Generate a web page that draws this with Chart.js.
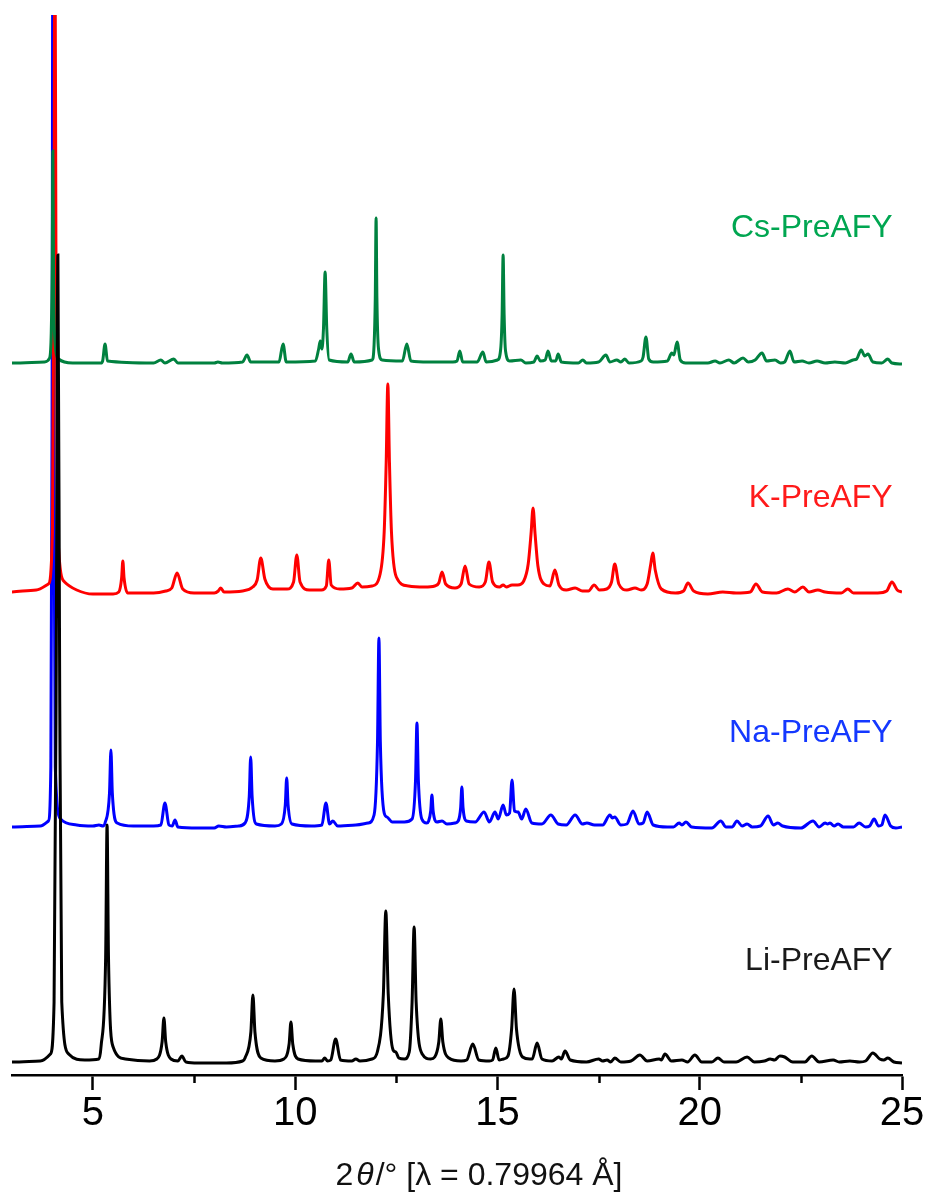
<!DOCTYPE html>
<html>
<head>
<meta charset="utf-8">
<script src="https://cdn.jsdelivr.net/npm/chart.js@4.4.1/dist/chart.umd.min.js"></script>
<style>
  html, body { margin: 0; padding: 0; background: #ffffff; }
  #wrap { width: 930px; height: 1193px; position: relative; }
</style>
</head>
<body>
<div id="wrap"><canvas id="pxrd" width="930" height="1193"></canvas></div>
<script>
// 2θ tick labels and minor tick positions
const twoThetaTicks = [5, 10, 15, 20, 25];
const minorTicks = [7.5, 12.5, 17.5, 22.5];

// Sample names, bottom to top
const seriesNames = ['Li-PreAFY', 'Na-PreAFY', 'K-PreAFY', 'Cs-PreAFY'];

// Vertical stacking offsets (same intensity units as the patterns)
const stackOffsets = [13, 248, 483, 712];

// Diffraction patterns: [2θ (°), intensity above the pattern's own baseline]
const liPattern = [
  [3.0, 0], [3.7, 1], [3.95, 8],
  [4.04, 60], [4.09, 360], [4.135, 807], [4.18, 360], [4.23, 60], [4.4, 8], [4.8, 2],
  [5.15, 3],
  [5.2, 15], [5.315, 105], [5.35, 237], [5.385, 105], [5.5, 15], [5.8, 3],
  [6.4, 1],
  [6.58, 3], [6.71, 20], [6.755, 44], [6.8, 20], [6.93, 3],
  [7.1, 1], [7.2, 6], [7.3, 0],
  [7.6, -1], [8.3, -1], [8.7, 1],
  [8.76, 4], [8.905, 30], [8.955, 67], [9.005, 30], [9.15, 4],
  [9.5, 1],
  [9.72, 3], [9.85, 18], [9.895, 40], [9.94, 18], [10.07, 3],
  [10.5, 1],
  [10.66, 1], [10.73, 4], [10.8, 1],
  [10.88, 2], [11.0, 23], [11.12, 2],
  [11.4, 1], [11.5, 3], [11.6, 1],
  [11.9, 3],
  [12.03, 10], [12.18, 68], [12.24, 151], [12.3, 68], [12.42, 12],
  [12.49, 10], [12.56, 4],
  [12.7, 3],
  [12.82, 10], [12.89, 60], [12.94, 135], [12.99, 60], [13.14, 8],
  [13.35, 3],
  [13.45, 5], [13.55, 20], [13.6, 43], [13.65, 20], [13.8, 4],
  [14.1, 1],
  [14.24, 2], [14.39, 18], [14.54, 2],
  [14.8, 1],
  [14.88, 2], [14.96, 14], [15.04, 2],
  [15.15, 3],
  [15.26, 6], [15.35, 33], [15.41, 73], [15.47, 33], [15.62, 5],
  [15.8, 3],
  [15.86, 3], [15.98, 19], [16.1, 3],
  [16.35, 1],
  [16.52, 5], [16.58, 3], [16.67, 11], [16.8, 2],
  [17.2, 0],
  [17.5, 3], [17.6, 1], [17.71, 2], [17.8, 0], [17.9, 4], [18.05, 0], [18.3, 1],
  [18.52, 7], [18.7, 1],
  [19.0, 3], [19.05, 2], [19.14, 8], [19.3, 1], [19.56, 2], [19.7, 0],
  [19.88, 7], [20.05, 0], [20.3, 0], [20.45, 4], [20.6, 0], [20.9, 0],
  [21.17, 5], [21.35, 0], [21.6, 1], [21.74, 3], [21.85, 2], [21.98, 6], [22.1, 5], [22.3, 0], [22.6, 0],
  [22.77, 6], [22.95, 0], [23.3, 2], [23.45, 0], [23.71, 1], [23.95, 0], [24.1, 1],
  [24.28, 9], [24.45, 3], [24.55, 2], [24.65, 4], [24.8, 0], [25.0, -1]
];

const naPattern = [
  [3.0, 0], [3.7, 1], [3.9, 6],
  [3.96, 60], [3.99, 400], [4.01, 900], [4.03, 400], [4.07, 60], [4.2, 8], [4.6, 2],
  [5.0, 1], [5.15, 2], [5.25, 1],
  [5.3, 4], [5.41, 34], [5.445, 77], [5.48, 34], [5.6, 4],
  [6.0, 1], [6.5, 1],
  [6.68, 2], [6.78, 24], [6.88, 2],
  [6.96, 1], [7.03, 7], [7.1, 0],
  [7.6, -1], [8.0, -1], [8.11, 1], [8.3, 0], [8.6, 1],
  [8.76, 4], [8.865, 31], [8.9, 70], [8.935, 31], [9.04, 3],
  [9.5, 1],
  [9.66, 3], [9.755, 22], [9.79, 49], [9.825, 22], [9.92, 3],
  [10.4, 1],
  [10.66, 2], [10.76, 24], [10.85, 3],
  [10.93, 6], [11.05, 1],
  [11.5, 2], [11.8, 4],
  [11.95, 12], [12.035, 85], [12.07, 189], [12.105, 85], [12.2, 14],
  [12.27, 10], [12.4, 5],
  [12.7, 5],
  [12.89, 8], [12.975, 47], [13.01, 104], [13.045, 47], [13.13, 8],
  [13.25, 4],
  [13.3, 6], [13.35, 16], [13.38, 32], [13.41, 16], [13.5, 5],
  [13.63, 6], [13.75, 3],
  [13.95, 4],
  [14.03, 6], [14.09, 19], [14.12, 40], [14.15, 19], [14.23, 6],
  [14.45, 5],
  [14.67, 15], [14.8, 5],
  [14.94, 15], [15.02, 8],
  [15.14, 22], [15.22, 12],
  [15.3, 14], [15.36, 47], [15.42, 16],
  [15.51, 15], [15.6, 8],
  [15.7, 18], [15.85, 4],
  [16.1, 3],
  [16.32, 12], [16.5, 3],
  [16.7, 2],
  [16.92, 12], [17.1, 3],
  [17.21, 4], [17.4, 2],
  [17.6, 2],
  [17.78, 12], [17.84, 9], [17.9, 10], [18.05, 2],
  [18.2, 3],
  [18.35, 16], [18.5, 3],
  [18.6, 4], [18.7, 15], [18.85, 2],
  [19.2, 0], [19.35, 0],
  [19.49, 4], [19.56, 2], [19.66, 5], [19.8, 0],
  [20.3, -1],
  [20.52, 6], [20.65, 0],
  [20.8, 0], [20.92, 6], [21.05, 1], [21.17, 3], [21.3, 0],
  [21.5, 1],
  [21.69, 11], [21.82, 2], [21.93, 4], [22.05, 1],
  [22.5, -1],
  [22.8, 6], [22.95, 0], [23.1, 4], [23.16, 3], [23.22, 4], [23.32, 1], [23.42, 3], [23.55, 0],
  [23.8, 0], [23.94, 4], [24.1, 0],
  [24.2, 1], [24.31, 8], [24.42, 1],
  [24.5, 2], [24.58, 12], [24.72, 1], [24.85, -1], [25.0, 0]
];

const kPattern = [
  [3.0, 0], [3.6, 2], [3.9, 8],
  [4.0, 60], [4.04, 350], [4.06, 700], [4.085, 350], [4.13, 60], [4.3, 10], [4.6, 2],
  [5.0, -2], [5.5, -2],
  [5.64, 0], [5.71, 14], [5.74, 31], [5.77, 14], [5.86, -1],
  [6.5, -1], [6.8, 1],
  [6.95, 4], [7.08, 19], [7.22, 3], [7.5, -1],
  [8.0, -1],
  [8.1, 1], [8.16, 4], [8.24, 0],
  [8.7, 1], [8.95, 5],
  [9.06, 12], [9.15, 34], [9.25, 13], [9.45, 3],
  [9.8, 3],
  [9.96, 10], [10.04, 37], [10.12, 10], [10.35, 2],
  [10.65, 2],
  [10.77, 6], [10.83, 32], [10.89, 7], [11.1, 3],
  [11.4, 4],
  [11.55, 9], [11.65, 5],
  [11.9, 6], [12.1, 18],
  [12.2, 60], [12.25, 130], [12.29, 208], [12.33, 130], [12.38, 60], [12.5, 15], [12.8, 6], [13.2, 5],
  [13.45, 6],
  [13.55, 9], [13.63, 20], [13.72, 8], [13.95, 4],
  [14.1, 8], [14.2, 26], [14.3, 8], [14.55, 5],
  [14.7, 10], [14.79, 30], [14.88, 10], [15.05, 5],
  [15.14, 7], [15.22, 5], [15.36, 7], [15.5, 7], [15.65, 11],
  [15.76, 28], [15.83, 58], [15.88, 84], [15.93, 58], [16.0, 26], [16.15, 8],
  [16.3, 6],
  [16.42, 22], [16.52, 7], [16.7, 2],
  [16.92, 4], [17.1, 1],
  [17.25, 1], [17.39, 7], [17.52, 2],
  [17.7, 3],
  [17.82, 10], [17.9, 28], [18.0, 8], [18.2, 2],
  [18.4, 4], [18.55, 2],
  [18.7, 8], [18.79, 28], [18.84, 39], [18.9, 22], [19.05, 3],
  [19.4, -1],
  [19.6, 1], [19.71, 9], [19.85, 1],
  [20.2, -2], [20.57, 0], [20.9, -1],
  [21.25, 0], [21.39, 8], [21.55, 0],
  [21.9, -1], [22.18, 3], [22.35, 0], [22.55, 5], [22.7, 0], [22.92, 2], [23.1, 0],
  [23.5, -1], [23.66, 3], [23.8, -1], [24.4, -1],
  [24.62, 1], [24.75, 10], [24.88, 2], [25.0, 0]
];

const csPattern = [
  [3.0, 0], [3.8, 1], [3.93, 5],
  [3.97, 30], [3.995, 100], [4.01, 212], [4.025, 100], [4.05, 30], [4.15, 4], [4.5, 0],
  [5.2, 0],
  [5.24, 2], [5.3, 19], [5.36, 2],
  [6.5, 0], [6.68, 3], [6.78, 0], [7.0, 4], [7.1, 0],
  [8.0, 0], [8.09, 1], [8.2, 0], [8.7, 1],
  [8.81, 8], [8.9, 1],
  [9.6, 1],
  [9.7, 19], [9.78, 1],
  [10.5, 2],
  [10.58, 14], [10.62, 22], [10.66, 14], [10.7, 35], [10.74, 91], [10.78, 35], [10.84, 3],
  [11.3, 1],
  [11.38, 9], [11.46, 1],
  [11.9, 3],
  [11.95, 18], [11.98, 65], [12.0, 145], [12.02, 65], [12.06, 14], [12.15, 3],
  [12.65, 2],
  [12.76, 19], [12.86, 2],
  [13.3, 1], [13.9, 1],
  [14.0, 2], [14.07, 12], [14.14, 1],
  [14.5, 1],
  [14.64, 11], [14.72, 1],
  [15.0, 3],
  [15.08, 14], [15.115, 48], [15.14, 108], [15.165, 48], [15.2, 12], [15.3, 2],
  [15.58, 3], [15.7, 0], [15.9, 1],
  [15.98, 7], [16.06, 2],
  [16.18, 3], [16.25, 12], [16.33, 2],
  [16.44, 2], [16.5, 9], [16.58, 1],
  [17.0, 0], [17.11, 3], [17.2, 0], [17.5, 1],
  [17.68, 8], [17.78, 1], [17.95, 3], [18.05, 1], [18.15, 4], [18.25, 0],
  [18.55, 2],
  [18.6, 6], [18.67, 26], [18.74, 4], [18.85, 1],
  [19.2, 2],
  [19.31, 10], [19.36, 8], [19.44, 21], [19.52, 3], [19.65, 0],
  [20.2, 0], [20.38, 2], [20.5, 0], [20.72, 3], [20.85, 0],
  [21.07, 5], [21.2, 1], [21.37, 3], [21.54, 10], [21.65, 2], [21.86, 3], [22.0, 0], [22.1, 1],
  [22.23, 12], [22.33, 1],
  [22.53, 2], [22.7, 0], [22.9, 2], [23.1, 0], [23.34, 1], [23.6, 0],
  [23.79, 3], [23.88, 4], [23.99, 13], [24.08, 7], [24.16, 9], [24.28, 1], [24.5, 0],
  [24.65, 4], [24.75, 0], [25.0, -1]
];

const lineColors = ['#000000', '#0000ff', '#ff0000', '#00813f'];
const labelColors = ['#1a1a1a', '#1438ff', '#ff1a1a', '#00a651'];

const patterns = [liPattern, naPattern, kPattern, csPattern];

// Lift each pattern by its stacking offset
const datasets = patterns.map((pat, i) => ({
  label: seriesNames[i],
  data: pat.map(p => ({ x: p[0], y: stackOffsets[i] + p[1] })),
  borderColor: lineColors[i],
  backgroundColor: lineColors[i],
  borderWidth: 3,
  pointRadius: 0,
  fill: false,
  cubicInterpolationMode: 'monotone'
}));

// Li is painted last (on top), then Cs, K, Na underneath
const drawOrder = [0, 3, 2, 1];
const orderedDatasets = drawOrder.map(i => datasets[i]);

const FONT = "'Liberation Sans', Arial, Helvetica, sans-serif";

const decorations = {
  id: 'decorations',
  afterDraw(chart) {
    const { ctx, chartArea, scales } = chart;
    const xs = scales.x, ys = scales.y;
    ctx.save();

    // minor ticks
    ctx.strokeStyle = '#000';
    ctx.lineWidth = 2.5;
    minorTicks.forEach(v => {
      const px = Math.round(xs.getPixelForValue(v)) + 0.5;
      ctx.beginPath();
      ctx.moveTo(px, chartArea.bottom);
      ctx.lineTo(px, chartArea.bottom + 8);
      ctx.stroke();
    });

    // axis title: 2θ/° [λ = 0.79964 Å], θ in italics, centred under the plot
    const pieces = [
      { t: '2', it: false, gap: 3 },
      { t: 'θ', it: true, gap: 2 },
      { t: '/° [λ = 0.79964 Å]', it: false, gap: 0 }
    ];
    const titleSize = 32;
    ctx.fillStyle = '#111';
    ctx.textBaseline = 'alphabetic';
    ctx.textAlign = 'left';
    let total = 0;
    pieces.forEach(p => {
      ctx.font = (p.it ? 'italic ' : '') + titleSize + 'px ' + FONT;
      p.w = ctx.measureText(p.t).width;
      total += p.w + p.gap;
    });
    let tx = 479 - total / 2;
    pieces.forEach(p => {
      ctx.font = (p.it ? 'italic ' : '') + titleSize + 'px ' + FONT;
      ctx.fillText(p.t, tx, 1185);
      tx += p.w + p.gap;
    });

    // sample labels at the right of each pattern
    const labelLift = [92, 85, 85, 126];
    ctx.font = '32px ' + FONT;
    ctx.textAlign = 'right';
    seriesNames.forEach((name, i) => {
      ctx.fillStyle = labelColors[i];
      const y = ys.getPixelForValue(stackOffsets[i] + labelLift[i]);
      ctx.fillText(name, xs.getPixelForValue(24.77), y);
    });
    ctx.restore();
  }
};

new Chart(document.getElementById('pxrd'), {
  type: 'line',
  data: { datasets: orderedDatasets },
  options: {
    responsive: false,
    animation: false,
    devicePixelRatio: 1,
    layout: { padding: { left: 12, right: 28, top: 15, bottom: 0 } },
    plugins: { legend: { display: false }, tooltip: { enabled: false } },
    scales: {
      x: {
        type: 'linear',
        min: 3,
        max: 25,
        afterBuildTicks(scale) {
          scale.ticks = twoThetaTicks.map(v => ({ value: v }));
        },
        afterFit(scale) { scale.height = 118; },
        ticks: {
          color: '#000',
          font: { family: FONT, size: 40 },
          padding: 0,
          maxRotation: 0,
          autoSkip: false,
          callback: v => String(v)
        },
        grid: {
          display: true,
          drawOnChartArea: false,
          drawTicks: true,
          tickLength: 15,
          tickWidth: 2.5,
          tickColor: '#000'
        },
        border: { display: true, color: '#000', width: 2.5 }
      },
      y: {
        type: 'linear',
        display: false,
        min: 0,
        max: 1060
      }
    }
  },
  plugins: [decorations]
});
</script>
</body>
</html>
